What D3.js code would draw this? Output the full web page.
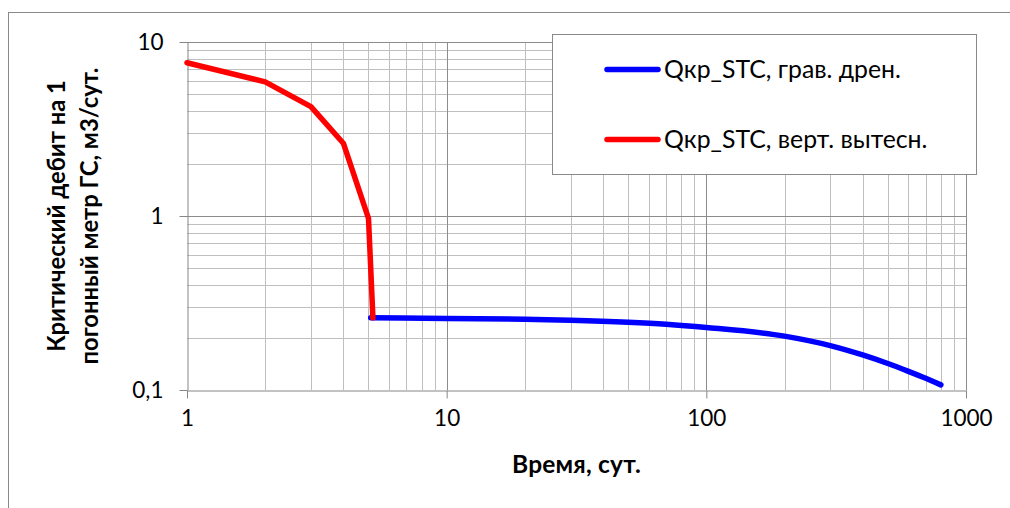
<!DOCTYPE html>
<html>
<head>
<meta charset="utf-8">
<script src="https://cdn.jsdelivr.net/npm/d3@7"></script>
<style>
  body { margin: 0; background: #fff; }
  text { font-family: Lato, "Open Sans", sans-serif; fill: #000; }
</style>
</head>
<body>
<div id="chart"></div>
<script>
// --- data ---
const xTicks = [1, 10, 100, 1000];
const yTicks = [0.1, 1, 10];
const yTickLabels = ["0,1", "1", "10"];

const blueName = "Qкр_STC, грав. дрен.";
const blueDays = [5.1, 10, 20, 30, 50, 70, 100, 200, 300, 400, 500, 600, 700, 800];
const blueRate = [0.26, 0.258, 0.255, 0.252, 0.2455, 0.239, 0.229, 0.204, 0.18, 0.159, 0.142, 0.128, 0.1167, 0.107];

const redName = "Qкр_STC, верт. вытесн.";
const redDays = [1, 2, 3, 4, 5, 5.2];
const redRate = [7.6, 5.9, 4.25, 2.62, 0.97, 0.26];

const width = 1010;
const height = 508;
const plot = { left: 187, right: 966, top: 42, bottom: 390 };

const svg = d3.select("#chart").append("svg")
    .attr("width", width)
    .attr("height", height);

// outer chart frame
svg.append("rect")
    .attr("x", 8.5).attr("y", 12.5)
    .attr("width", width + 10).attr("height", height + 10)
    .attr("fill", "none")
    .attr("stroke", "#898989");

const x = d3.scaleLog().domain([1, 1000]).range([plot.left, plot.right]);
const y = d3.scaleLog().domain([0.1, 10]).range([plot.bottom, plot.top]);

// minor gridlines (2..9 of each decade)
const minorX = [], minorY = [];
for (let d = 1; d <= 100; d *= 10) for (let k = 2; k <= 9; k++) minorX.push(d * k);
for (let d = 0.1; d <= 1; d *= 10) for (let k = 2; k <= 9; k++) minorY.push(d * k);

const grid = svg.append("g").attr("shape-rendering", "crispEdges");

grid.selectAll(".vminor").data(minorX).join("line")
    .attr("x1", d => Math.round(x(d)) + 0.5).attr("x2", d => Math.round(x(d)) + 0.5)
    .attr("y1", plot.top).attr("y2", plot.bottom)
    .attr("stroke", "#bfbfbf");

grid.selectAll(".hminor").data(minorY).join("line")
    .attr("y1", d => Math.round(y(d)) + 0.5).attr("y2", d => Math.round(y(d)) + 0.5)
    .attr("x1", plot.left).attr("x2", plot.right)
    .attr("stroke", "#bfbfbf");

// major gridlines
grid.selectAll(".vmajor").data(xTicks.slice(1)).join("line")
    .attr("x1", d => Math.round(x(d)) + 0.5).attr("x2", d => Math.round(x(d)) + 0.5)
    .attr("y1", plot.top).attr("y2", plot.bottom)
    .attr("stroke", "#8c8c8c");

grid.selectAll(".hmajor").data(yTicks.slice(1)).join("line")
    .attr("y1", d => Math.round(y(d)) + 0.5).attr("y2", d => Math.round(y(d)) + 0.5)
    .attr("x1", plot.left).attr("x2", plot.right)
    .attr("stroke", "#8c8c8c");

// axes
const xAxis = d3.axisBottom(x)
    .tickValues(xTicks)
    .tickFormat(d3.format("d"))
    .tickSizeInner(8).tickSizeOuter(0).tickPadding(12);

const yAxis = d3.axisLeft(y)
    .tickValues(yTicks)
    .tickFormat((d, i) => yTickLabels[i])
    .tickSizeInner(8).tickSizeOuter(0).tickPadding(16);

const gx = svg.append("g")
    .attr("transform", `translate(0,${plot.bottom + 0.5})`)
    .call(xAxis);

const gy = svg.append("g")
    .attr("transform", `translate(${plot.left + 0.5},0)`)
    .call(yAxis);

[gx, gy].forEach(g => {
    g.select(".domain").attr("stroke", "#868686");
    g.selectAll(".tick line").attr("stroke", "#868686");
    g.selectAll(".tick text")
        .attr("font-family", "Lato, sans-serif")
        .attr("font-size", 22.5)
        .attr("fill", "#000");
});

// series lines
const line = d3.line()
    .x(d => x(d[0]))
    .y(d => y(d[1]))
    .curve(d3.curveMonotoneX);

const bluePts = blueDays.map((d, i) => [d, blueRate[i]]);
const redPts = redDays.map((d, i) => [d, redRate[i]]);

svg.append("path")
    .datum(bluePts)
    .attr("d", line)
    .attr("fill", "none")
    .attr("stroke", "#0000ff")
    .attr("stroke-width", 5.5)
    .attr("stroke-linecap", "round")
    .attr("stroke-linejoin", "round");

svg.append("path")
    .datum(redPts)
    .attr("d", d3.line().x(d => x(d[0])).y(d => y(d[1])))
    .attr("fill", "none")
    .attr("stroke", "#ff0000")
    .attr("stroke-width", 5.5)
    .attr("stroke-linecap", "round")
    .attr("stroke-linejoin", "round");

// legend
const legend = svg.append("g");
legend.append("rect")
    .attr("x", 552.5).attr("y", 34.5)
    .attr("width", 424).attr("height", 140)
    .attr("fill", "#fff")
    .attr("stroke", "#898989");

const legendItems = [
    { name: blueName, color: "#0000ff", y: 69.5 },
    { name: redName, color: "#ff0000", y: 139.5 }
];

const item = legend.selectAll(".item").data(legendItems).join("g");
item.append("line")
    .attr("x1", 607).attr("x2", 658)
    .attr("y1", d => d.y).attr("y2", d => d.y)
    .attr("stroke", d => d.color)
    .attr("stroke-width", 5.5)
    .attr("stroke-linecap", "round");
item.append("text")
    .attr("x", 664)
    .attr("y", d => d.y + 8.5)
    .attr("font-size", 24.8)
    .text(d => d.name);

// axis titles
svg.append("text")
    .attr("x", (plot.left + plot.right) / 2)
    .attr("y", 473)
    .attr("text-anchor", "middle")
    .attr("font-weight", "bold")
    .attr("font-size", 24.5)
    .attr("letter-spacing", 0.2)
    .text("Время, сут.");

const yTitle = svg.append("text")
    .attr("transform", `translate(65,216) rotate(-90)`)
    .attr("text-anchor", "middle")
    .attr("font-weight", "bold")
    .attr("font-size", 23.8);
yTitle.append("tspan").attr("x", 0).attr("dy", 0).text("Критический дебит на 1");
yTitle.append("tspan").attr("x", 0).attr("dy", 33).text("погонный метр ГС, м3/сут.");
</script>
</body>
</html>
